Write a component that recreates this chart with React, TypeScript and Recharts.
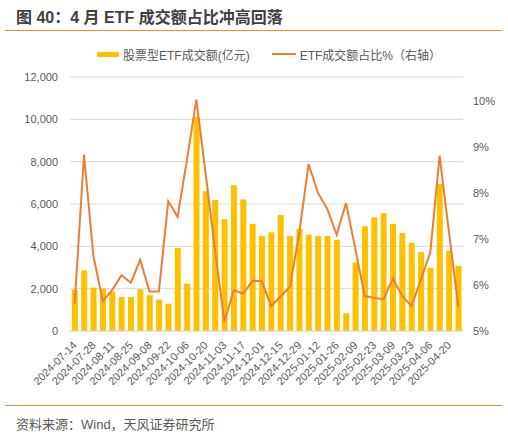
import * as React from 'react';
import {
  ComposedChart,
  Bar,
  Line,
  XAxis,
  YAxis,
  CartesianGrid,
} from 'recharts';

const FONT = "'Liberation Sans', Arial, 'Noto Sans CJK SC', sans-serif";
const CJK = "'Noto Sans CJK SC', sans-serif";

const weeks = [
  '2024-07-14', '2024-07-21', '2024-07-28', '2024-08-04', '2024-08-11', '2024-08-18',
  '2024-08-25', '2024-09-01', '2024-09-08', '2024-09-15', '2024-09-22', '2024-09-29',
  '2024-10-06', '2024-10-13', '2024-10-20', '2024-10-27', '2024-11-03', '2024-11-10',
  '2024-11-17', '2024-11-24', '2024-12-01', '2024-12-08', '2024-12-15', '2024-12-22',
  '2024-12-29', '2025-01-05', '2025-01-12', '2025-01-19', '2025-01-26', '2025-02-02',
  '2025-02-09', '2025-02-16', '2025-02-23', '2025-03-02', '2025-03-09', '2025-03-16',
  '2025-03-23', '2025-03-30', '2025-04-06', '2025-04-13', '2025-04-20', '2025-04-27',
];

// 股票型ETF成交额（亿元）
const turnover = [
  1950, 2860, 2050, 2000, 1860, 1610, 1610, 1970, 1690, 1480, 1290, 3920,
  2240, 10120, 6600, 6190, 5280, 6890, 6210, 5060, 4490, 4660, 5480, 4490,
  4820, 4550, 4490, 4490, 4310, 840, 3240, 4950, 5370, 5560, 5060, 4630,
  4170, 3730, 2990, 6940, 3790, 3080,
];

// ETF成交额占比（%，右轴）
const share = [
  5.6, 8.83, 6.63, 5.65, 5.89, 6.21, 6.05, 6.55, 5.86, 5.86, 7.82, 7.48,
  8.72, 10.03, 8.41, 6.76, 5.2, 5.89, 5.81, 6.09, 6.08, 5.54, 5.75, 5.96,
  7.13, 8.63, 8.0, 7.65, 7.09, 7.78, 6.78, 5.76, 5.72, 5.69, 6.14, 5.76,
  5.54, 6.12, 6.7, 8.81, 7.15, 5.53,
];

const leftTicks = [0, 2000, 4000, 6000, 8000, 10000, 12000];
const rightTicks = [5, 6, 7, 8, 9, 10];

const data = weeks.map((week, i) => ({
  week,
  turnover: turnover[i],
  share: share[i],
}));

const DateTick = (props: any) => {
  const { x, y, payload } = props;
  const tx = x + 3;
  const ty = y + 3;
  return (
    <text
      x={tx}
      y={ty}
      transform={`rotate(-45 ${tx} ${ty})`}
      textAnchor="end"
      fontSize={11}
      fill="#595959"
      fontFamily={FONT}
    >
      {payload.value}
    </text>
  );
};

export default function App() {
  return (
    <div
      style={{
        position: 'absolute',
        left: 0,
        top: 0,
        width: 508,
        height: 435,
        background: '#fff',
        fontFamily: FONT,
        overflow: 'hidden',
      }}
    >
      <div
        style={{
          position: 'absolute',
          left: 16,
          top: 4,
          fontSize: 16,
          fontWeight: 'bold',
          color: '#404040',
          whiteSpace: 'nowrap',
        }}
      >
        图 40<span style={{ fontFamily: CJK }}>：</span>4 月 ETF 成交额占比冲高回落
      </div>
      <div
        style={{
          position: 'absolute',
          left: 5,
          top: 30,
          width: 497,
          height: 1,
          background: '#F08A3C',
        }}
      />

      <div
        style={{
          position: 'absolute',
          left: 97,
          top: 46,
          height: 16,
          display: 'flex',
          alignItems: 'center',
          fontSize: 12,
          color: '#595959',
          whiteSpace: 'nowrap',
        }}
      >
        <span style={{ width: 22, height: 5, background: '#FFC000', marginRight: 4 }} />
        <span>股票型ETF成交额(亿元)</span>
        <span style={{ width: 24, height: 2, background: '#ED7D31', marginLeft: 22, marginRight: 4 }} />
        <span>ETF成交额占比%（右轴）</span>
      </div>

      <div style={{ position: 'absolute', left: 0, top: 0 }}>
        <ComposedChart
          width={508}
          height={435}
          data={data}
          margin={{ top: 77, right: 0, bottom: 38, left: 0 }}
          barCategoryGap="20%"
        >
          <CartesianGrid yAxisId="left" vertical={false} stroke="#D9D9D9" />
          <XAxis
            dataKey="week"
            interval={1}
            height={66}
            tickLine={false}
            axisLine={{ stroke: '#D9D9D9' }}
            tick={<DateTick />}
            tickMargin={6}
          />
          <YAxis
            yAxisId="left"
            width={70}
            domain={[0, 12000]}
            ticks={leftTicks}
            tickFormatter={(v: number) => v.toLocaleString('en-US')}
            axisLine={false}
            tickLine={false}
            tickSize={0}
            tickMargin={12}
            tick={{ fontSize: 11, fill: '#595959', fontFamily: FONT }}
          />
          <YAxis
            yAxisId="right"
            orientation="right"
            width={45}
            domain={[5, 10.52]}
            ticks={rightTicks}
            tickFormatter={(v: number) => `${v}%`}
            axisLine={false}
            tickLine={false}
            tickSize={0}
            tickMargin={10}
            tick={{ fontSize: 11, fill: '#595959', fontFamily: FONT }}
          />
          <Bar
            yAxisId="left"
            dataKey="turnover"
            fill="#FFC000"
            isAnimationActive={false}
          />
          <Line
            yAxisId="right"
            dataKey="share"
            type="linear"
            stroke="#ED7D31"
            strokeWidth={2}
            dot={false}
            isAnimationActive={false}
          />
        </ComposedChart>
      </div>

      <div
        style={{
          position: 'absolute',
          left: 5,
          top: 405,
          width: 497,
          height: 1,
          background: '#F08A3C',
        }}
      />
      <div
        style={{
          position: 'absolute',
          left: 16,
          top: 414,
          fontSize: 13,
          color: '#595959',
          whiteSpace: 'nowrap',
        }}
      >
        资料来源：Wind，天风证券研究所
      </div>
    </div>
  );
}
